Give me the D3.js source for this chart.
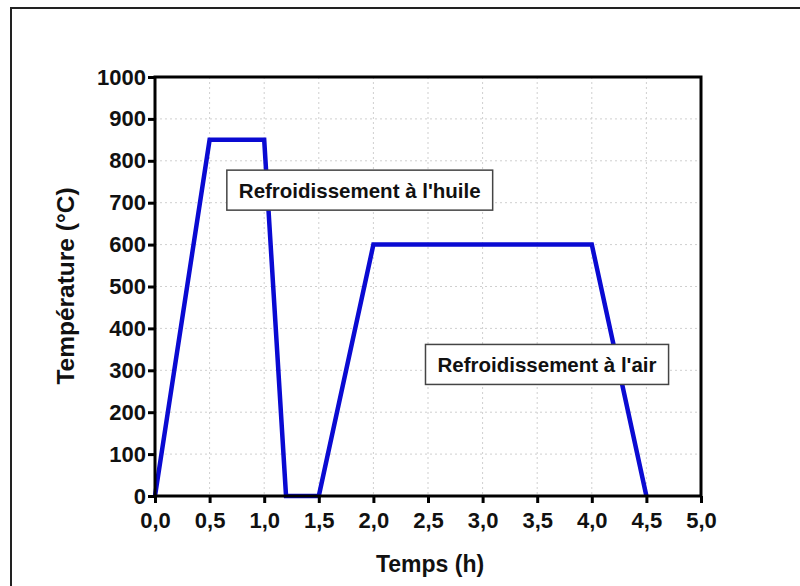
<!DOCTYPE html>
<html><head><meta charset="utf-8">
<script src="https://cdn.jsdelivr.net/npm/d3@7"></script>
<style>
body{margin:0;background:#fff;}
text{font-family:"Liberation Sans",Arial,sans-serif;font-weight:bold;fill:#111;}
</style></head>
<body><svg id="c" width="800" height="586"></svg>
<script>
const timeH = [0, 0.5, 1.0, 1.2, 1.5, 2.0, 4.0, 4.5];
const tempC = [0, 850, 850, 0, 0, 600, 600, 0];
const xTicks = [0,0.5,1,1.5,2,2.5,3,3.5,4,4.5,5];
const yTicks = [0,100,200,300,400,500,600,700,800,900,1000];
const annotations = [
  {text:"Refroidissement à l'huile", t:1.875, v:728},
  {text:"Refroidissement à l'air", t:3.59, v:312}
];
const svg = d3.select("#c");
svg.append("rect").attr("x",11).attr("y",8).attr("width",800).attr("height",600)
  .attr("fill","none").attr("stroke","#222").attr("stroke-width",2);
const L=155,R=701,T=77,B=496;
const x = d3.scaleLinear().domain([0,5]).range([L,R]);
const y = d3.scaleLinear().domain([0,1000]).range([B,T]);
const fmt = d=>d3.format(".1f")(d).replace(".",",");
// grid
const g = svg.append("g");
g.selectAll(".gx").data(xTicks.slice(1,-1)).enter().append("line")
  .attr("x1",d=>x(d)).attr("x2",d=>x(d)).attr("y1",T).attr("y2",B)
  .attr("stroke","#cfcfcf").attr("stroke-width",1).attr("stroke-dasharray","2,3");
g.selectAll(".gy").data(yTicks.slice(1,-1)).enter().append("line")
  .attr("y1",d=>y(d)).attr("y2",d=>y(d)).attr("x1",L).attr("x2",R)
  .attr("stroke","#cfcfcf").attr("stroke-width",1).attr("stroke-dasharray","2,3");
// line
const line = d3.line().x((d,i)=>x(timeH[i])).y(d=>y(d));
svg.append("path").datum(tempC).attr("d",line).attr("fill","none")
  .attr("stroke","#0a0ad2").attr("stroke-width",4.5).attr("stroke-linejoin","miter");
// frame
svg.append("rect").attr("x",L).attr("y",T).attr("width",R-L).attr("height",B-T)
  .attr("fill","none").attr("stroke","#000").attr("stroke-width",3);
// axes
const xa = svg.append("g").attr("transform",`translate(0,${B})`)
  .call(d3.axisBottom(x).tickValues(xTicks).tickFormat(fmt).tickSize(7).tickPadding(9));
const ya = svg.append("g").attr("transform",`translate(${L},0)`)
  .call(d3.axisLeft(y).tickValues(yTicks).tickFormat(d3.format("d")).tickSize(7).tickPadding(2));
[xa,ya].forEach(a=>{
  a.select(".domain").remove();
  a.selectAll(".tick line").attr("stroke","#000").attr("stroke-width",3);
  a.selectAll(".tick text").style("font-size","22px").style("font-family","'Liberation Sans',Arial,sans-serif").style("font-weight","bold").attr("fill","#111");
});
// titles
svg.append("text").attr("x",430).attr("y",572).attr("text-anchor","middle")
  .style("font-size","23px").text("Temps (h)");
svg.append("text").attr("transform","translate(74,286) rotate(-90)").attr("text-anchor","middle")
  .style("font-size","24.5px").text("Température (°C)");
// annotations
annotations.forEach(a=>{
  const t = svg.append("text").attr("x",x(a.t)).attr("y",y(a.v)).attr("text-anchor","middle")
    .attr("dy","0.35em").style("font-size","20.5px").text(a.text);
  const bb = t.node().getBBox();
  svg.insert("rect", () => t.node()).attr("x",bb.x-12).attr("y",bb.y-9).attr("width",bb.width+24).attr("height",bb.height+17)
    .attr("fill","#fff").attr("stroke","#444").attr("stroke-width",1.5);
});
</script></body></html>
